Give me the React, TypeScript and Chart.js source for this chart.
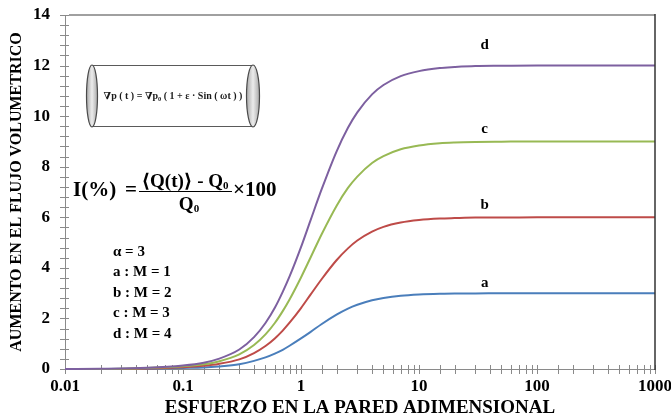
import React, { useEffect, useRef } from 'react';
import { Chart, registerables } from 'chart.js';

Chart.register(...registerables);

// ---- data ----
const xValues = [0.01, 0.02, 0.05, 0.1, 0.15, 0.2, 0.3, 0.4, 0.5, 0.6, 0.7, 0.8, 1, 1.2, 1.5, 2, 2.5, 3, 4, 5, 7, 10, 15, 20, 30, 50, 100, 200, 500, 1000];
const seriesA = [0.0, 0.0, 0.01, 0.04, 0.06, 0.1, 0.19, 0.32, 0.46, 0.61, 0.76, 0.92, 1.21, 1.46, 1.78, 2.15, 2.39, 2.54, 2.72, 2.81, 2.9, 2.95, 2.98, 2.99, 2.99, 3, 3, 3, 3, 3];
const seriesB = [0.0, 0.0, 0.02, 0.07, 0.13, 0.2, 0.38, 0.63, 0.91, 1.21, 1.52, 1.83, 2.41, 2.93, 3.56, 4.3, 4.77, 5.08, 5.43, 5.62, 5.79, 5.89, 5.95, 5.97, 5.99, 5.99, 6, 6, 6, 6];
const seriesC = [0.0, 0.0, 0.04, 0.11, 0.19, 0.3, 0.58, 0.95, 1.37, 1.82, 2.29, 2.75, 3.62, 4.39, 5.34, 6.45, 7.16, 7.61, 8.15, 8.42, 8.69, 8.84, 8.93, 8.96, 8.98, 8.99, 9, 9, 9, 9];
const seriesD = [0.0, 0.01, 0.05, 0.14, 0.25, 0.4, 0.77, 1.26, 1.82, 2.42, 3.05, 3.66, 4.82, 5.86, 7.12, 8.6, 9.54, 10.15, 10.86, 11.23, 11.58, 11.78, 11.9, 11.94, 11.98, 11.99, 12, 12, 12, 12];

const seriesNames = ['d', 'c', 'b', 'a'];
const seriesColors = ['#7D60A0', '#98B954', '#BE4B48', '#4A7EBB'];
const curveLabelX = 36;
const curveLabelY = [12.8, 9.5, 6.5, 3.4];

const xTickLabels = ['0.01', '0.1', '1', '10', '100', '1000'];
const yTickLabels = ['0', '2', '4', '6', '8', '10', '12', '14'];
const yMinorStep = 0.4;
const legendLines = ['α = 3', 'a : M = 1', 'b : M = 2', 'c : M = 3', 'd : M = 4'];
const xTitle = 'ESFUERZO EN LA PARED ADIMENSIONAL';
const yTitle = 'AUMENTO EN EL FLUJO VOLUMETRICO';

const SERIF = "'Liberation Serif', 'Times New Roman', 'DejaVu Serif', serif";

type Run = { t: string; size: number; dy?: number };

function runsWidth(ctx: CanvasRenderingContext2D, runs: Run[]) {
  let w = 0;
  for (const r of runs) {
    ctx.font = `bold ${r.size}px ${SERIF}`;
    w += ctx.measureText(r.t).width;
  }
  return w;
}

function drawRuns(ctx: CanvasRenderingContext2D, runs: Run[], x: number, y: number, align: 'left' | 'center' | 'right') {
  const w = runsWidth(ctx, runs);
  let cx = align === 'center' ? x - w / 2 : align === 'right' ? x - w : x;
  ctx.textAlign = 'left';
  ctx.textBaseline = 'alphabetic';
  for (const r of runs) {
    ctx.font = `bold ${r.size}px ${SERIF}`;
    ctx.fillText(r.t, cx, y + (r.dy || 0));
    cx += ctx.measureText(r.t).width;
  }
}

const axesPlugin = {
  id: 'excelAxes',
  beforeDatasetsDraw(chart: any) {
    const { ctx, chartArea } = chart;
    const { left, right, top, bottom } = chartArea;
    const xs = chart.scales.x;
    const ys = chart.scales.y;
    ctx.save();
    ctx.strokeStyle = '#8a8a8a';
    ctx.lineWidth = 1;
    ctx.beginPath();
    ctx.moveTo(Math.round(left) + 0.5, top);
    ctx.lineTo(Math.round(left) + 0.5, bottom);
    ctx.moveTo(left, Math.round(bottom) + 0.5);
    ctx.lineTo(right, Math.round(bottom) + 0.5);
    for (const t of xs.ticks) {
      const px = Math.round(xs.getPixelForValue(t.value)) + 0.5;
      ctx.moveTo(px, bottom - 4);
      ctx.lineTo(px, bottom + 5);
    }
    const n = Math.round((ys.max - ys.min) / yMinorStep);
    for (let i = 0; i <= n; i++) {
      const py = Math.round(ys.getPixelForValue(ys.min + i * yMinorStep)) + 0.5;
      ctx.moveTo(left - 5, py);
      ctx.lineTo(left + 4, py);
    }
    ctx.stroke();
    ctx.strokeStyle = '#a0a0a0';
    ctx.lineWidth = 2;
    ctx.beginPath();
    ctx.moveTo(left + 4, top);
    ctx.lineTo(right, top);
    ctx.stroke();

    // tick labels
    ctx.fillStyle = '#000000';
    ctx.font = `bold 17px ${SERIF}`;
    ctx.textAlign = 'center';
    ctx.textBaseline = 'middle';
    xTickLabels.forEach((s) => {
      ctx.fillText(s, xs.getPixelForValue(Number(s)), bottom + 18);
    });
    ctx.textAlign = 'right';
    yTickLabels.forEach((s) => {
      ctx.fillText(s, left - 15, ys.getPixelForValue(Number(s)));
    });
    // x title
    ctx.textAlign = 'center';
    ctx.font = `bold 19px ${SERIF}`;
    ctx.fillText(xTitle, (left + right) / 2, bottom + 39);
    ctx.restore();
  },
  afterDraw(chart: any) {
    const { ctx, chartArea } = chart;
    const { right, top, bottom } = chartArea;
    const xs = chart.scales.x;
    const ys = chart.scales.y;
    ctx.save();
    ctx.strokeStyle = '#333333';
    ctx.lineWidth = 1.5;
    ctx.beginPath();
    ctx.moveTo(right, top - 1);
    ctx.lineTo(right, bottom + 1);
    ctx.stroke();

    // cylinder inset
    const cyTop = 65, cyBot = 127, lx = 92, rx = 253;
    const ry = (cyBot - cyTop) / 2, cy = (cyTop + cyBot) / 2;
    ctx.fillStyle = '#ffffff';
    ctx.fillRect(lx, cyTop, rx - lx, cyBot - cyTop);
    ctx.strokeStyle = '#5a5a5a';
    ctx.lineWidth = 1;
    ctx.beginPath();
    ctx.moveTo(lx, cyTop + 0.5);
    ctx.lineTo(rx, cyTop + 0.5);
    ctx.moveTo(lx, cyBot - 0.5);
    ctx.lineTo(rx, cyBot - 0.5);
    ctx.stroke();
    const drawEll = (cx: number, erx: number) => {
      const g = ctx.createLinearGradient(cx - erx, 0, cx + erx, 0);
      g.addColorStop(0, '#a8a8a8');
      g.addColorStop(0.5, '#ececec');
      g.addColorStop(1, '#a8a8a8');
      ctx.fillStyle = g;
      ctx.beginPath();
      ctx.ellipse(cx, cy, erx, ry, 0, 0, Math.PI * 2);
      ctx.fill();
      ctx.lineWidth = 1.2;
      ctx.strokeStyle = '#4a4a4a';
      ctx.stroke();
    };
    drawEll(lx, 5.5);
    drawEll(rx, 6.5);
    ctx.fillStyle = '#1a1a1a';
    drawRuns(ctx, [
      { t: '∇p ( t ) = ∇p', size: 10 },
      { t: '0', size: 6.5, dy: 2 },
      { t: ' ( 1 + ε · Sin ( ωt ) )', size: 10 },
    ], 173, 99, 'center');

    // I(%) formula
    ctx.fillStyle = '#000000';
    drawRuns(ctx, [{ t: 'I(%)', size: 21 }], 73, 196, 'left');
    drawRuns(ctx, [{ t: '=', size: 21 }], 137, 196, 'right');
    drawRuns(ctx, [{ t: '⟨Q(t)⟩ - Q', size: 19 }, { t: '0', size: 11, dy: 2 }], 185, 187, 'center');
    drawRuns(ctx, [{ t: 'Q', size: 19 }, { t: '0', size: 11, dy: 2 }], 189, 210, 'center');
    ctx.strokeStyle = '#000000';
    ctx.lineWidth = 1.2;
    ctx.beginPath();
    ctx.moveTo(139, 191.5);
    ctx.lineTo(232, 191.5);
    ctx.stroke();
    drawRuns(ctx, [{ t: '×100', size: 21 }], 233, 196, 'left');

    // legend block
    ctx.textAlign = 'left';
    ctx.textBaseline = 'middle';
    ctx.font = `bold 15px ${SERIF}`;
    legendLines.forEach((s, i) => {
      ctx.fillText(s, 113, 252 + i * 20.5);
    });

    // curve labels
    ctx.textAlign = 'center';
    ctx.textBaseline = 'middle';
    ctx.font = `bold 15px ${SERIF}`;
    seriesNames.forEach((s, i) => {
      ctx.fillText(s, xs.getPixelForValue(curveLabelX), ys.getPixelForValue(curveLabelY[i]));
    });
    ctx.restore();
  },
};

export default function App() {
  const ref = useRef<HTMLCanvasElement | null>(null);
  useEffect(() => {
    if (!ref.current) return;
    const series = [seriesD, seriesC, seriesB, seriesA];
    const chart = new Chart(ref.current, {
      type: 'line',
      data: {
        datasets: series.map((s, i) => ({
          label: seriesNames[i],
          data: xValues.map((x, j) => ({ x, y: s[j] })),
          borderColor: seriesColors[i],
          backgroundColor: seriesColors[i],
          borderWidth: 2,
          pointRadius: 0,
          cubicInterpolationMode: 'monotone' as const,
          fill: false,
          clip: 6,
        })),
      },
      options: {
        animation: false,
        responsive: true,
        maintainAspectRatio: false,
        devicePixelRatio: 1,
        layout: { padding: { top: 15, right: 16, left: 0, bottom: 0 } },
        plugins: { legend: { display: false }, tooltip: { enabled: false } },
        scales: {
          x: {
            type: 'logarithmic',
            min: 0.01,
            max: 1000,
            grid: { display: false },
            border: { display: false },
            afterFit: (s: any) => { s.height = 47; },
            ticks: { display: false, autoSkip: false },
          },
          y: {
            type: 'linear',
            min: 0,
            max: 14,
            grid: { display: false },
            border: { display: false },
            afterFit: (s: any) => { s.width = 65; },
            ticks: { display: false, stepSize: 2 },
            title: {
              display: true,
              text: yTitle,
              color: '#000',
              font: { family: SERIF, size: 16, weight: 'bold' },
              padding: { top: 7, bottom: 0 },
            },
          },
        },
      },
      plugins: [axesPlugin],
    } as any);
    return () => chart.destroy();
  }, []);
  return (
    <div style={{ position: 'absolute', left: 0, top: 0, width: 671, height: 416 }}>
      <canvas ref={ref} />
    </div>
  );
}
